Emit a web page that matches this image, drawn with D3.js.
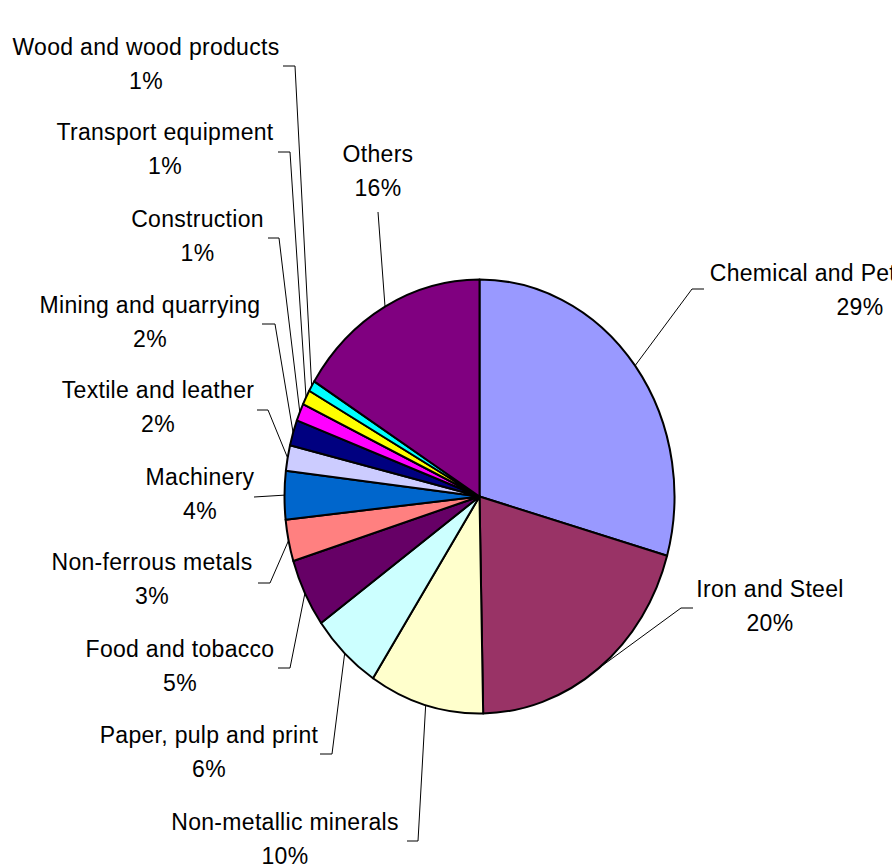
<!DOCTYPE html>
<html>
<head>
<meta charset="utf-8">
<script src="https://cdn.jsdelivr.net/npm/d3@7"></script>
<style>
  html, body { margin: 0; padding: 0; background: #fff; }
  svg { display: block; }
  text { font-family: "Liberation Sans", Arial, sans-serif; font-size: 23px; fill: #000; letter-spacing: 0.3px; }
</style>
</head>
<body>
<div id="chart"></div>
<script>
// ---- data ----
const categories = [
  "Chemical and Petrochemical", "Iron and Steel", "Non-metallic minerals",
  "Paper, pulp and print", "Food and tobacco", "Non-ferrous metals",
  "Machinery", "Textile and leather", "Mining and quarrying",
  "Construction", "Transport equipment", "Wood and wood products", "Others"
];
const values = [29.4, 20.3, 9.5, 5.9, 5.1, 3.1, 3.6, 1.9, 1.9, 1.3, 1.1, 0.8, 16.1];
const colors = ["#9999FF", "#993366", "#FFFFCC", "#CCFFFF", "#660066", "#FF8080",
  "#0066CC", "#CCCCFF", "#000080", "#FF00FF", "#FFFF00", "#00FFFF", "#800080"];

// ---- layout (label placement, not data) ----
const labelLayout = [
  {x: 860, y: 281, leader: [[704, 289], [692, 289]]},
  {x: 770, y: 597, leader: [[693, 608], [681, 608]]},
  {x: 285, y: 830, leader: [[407, 841], [418, 841]]},
  {x: 209, y: 743, leader: [[320, 754], [332, 754]]},
  {x: 180, y: 657, leader: [[278, 668], [290, 668]]},
  {x: 152, y: 570, leader: [[258, 583], [270, 583]]},
  {x: 200, y: 485, leader: [[254, 497]]},
  {x: 158, y: 398, leader: [[257, 410], [268, 410]]},
  {x: 150, y: 313, leader: [[262, 324], [275, 324]]},
  {x: 197.5, y: 227, leader: [[268, 238], [279, 238]]},
  {x: 165, y: 140, leader: [[278, 152], [290, 152]]},
  {x: 146, y: 55, leader: [[283, 66], [295, 66]]},
  {x: 378, y: 162, leader: [[378, 212]]}
];

const W = 892, H = 867;
const cx = 479.5, cy = 496.5, rx = 195, ry = 217;
const sy = ry / rx;

const svg = d3.select("#chart").append("svg").attr("width", W).attr("height", H);

const data = categories.map((c, i) => ({name: c, value: values[i], color: colors[i], layout: labelLayout[i]}));
const total = d3.sum(values);

const pie = d3.pie().value(d => d.value).sort(null);
const arcs = pie(data);
const arc = d3.arc().innerRadius(0).outerRadius(rx);
const edgeArc = d3.arc().innerRadius(rx).outerRadius(rx);

const g = svg.append("g").attr("transform", `translate(${cx},${cy}) scale(1,${sy})`);
g.selectAll("path").data(arcs).join("path")
  .attr("d", arc)
  .attr("fill", d => d.data.color)
  .attr("stroke", "#000")
  .attr("stroke-width", 2)
  .attr("stroke-linejoin", "round")
  .attr("vector-effect", "non-scaling-stroke");

// leader lines
const line = d3.line();
svg.append("g").selectAll("path").data(arcs).join("path")
  .attr("d", d => {
    const c = edgeArc.centroid(d);
    const p = [cx + c[0], cy + c[1] * sy];
    return line([...d.data.layout.leader, p]);
  })
  .attr("fill", "none")
  .attr("stroke", "#000")
  .attr("stroke-width", 1);

// labels
const lbl = svg.append("g").selectAll("text").data(arcs).join("text")
  .attr("text-anchor", "middle")
  .attr("x", d => d.data.layout.x)
  .attr("y", d => d.data.layout.y);
lbl.append("tspan").attr("x", d => d.data.layout.x).text(d => d.data.name);
lbl.append("tspan").attr("x", d => d.data.layout.x).attr("dy", 34)
  .text(d => Math.round(d.data.value / total * 100) + "%");
</script>
</body>
</html>
